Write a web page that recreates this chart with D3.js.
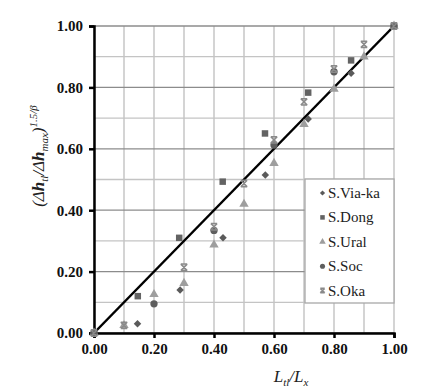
<!DOCTYPE html>
<html>
<head>
<meta charset="utf-8">
<script src="https://cdn.jsdelivr.net/npm/d3@7"></script>
<style>
  body { margin: 0; background: #fff; }
  svg text { font-family: "Liberation Serif", "Times New Roman", serif !important; }
</style>
</head>
<body>
<div id="chart"></div>
<script>
// 数据：横坐标 Ltl/Lx，纵坐标 (Δhtl/Δhmax)^(1.5/β)
const seriesNames = ["S.Via-ka", "S.Dong", "S.Ural", "S.Soc", "S.Oka"];
const viaka = [[0, 0], [0.145, 0.03], [0.287, 0.14], [0.43, 0.31], [0.571, 0.515], [0.714, 0.697], [0.857, 0.846], [1.0, 1.0]];
const dong  = [[0, 0], [0.146, 0.12], [0.284, 0.31], [0.429, 0.493], [0.57, 0.65], [0.714, 0.783], [0.857, 0.888], [1.0, 1.0]];
const ural  = [[0, 0], [0.1, 0.025], [0.2, 0.126], [0.3, 0.162], [0.4, 0.287], [0.5, 0.42], [0.6, 0.553], [0.7, 0.68], [0.8, 0.795], [0.9, 0.9], [1.0, 1.0]];
const soc   = [[0, 0], [0.2, 0.095], [0.4, 0.334], [0.6, 0.612], [0.8, 0.851], [1.0, 1.0]];
const oka   = [[0, 0], [0.1, 0.025], [0.3, 0.214], [0.4, 0.346], [0.5, 0.487], [0.6, 0.629], [0.7, 0.753], [0.8, 0.86], [0.9, 0.94], [1.0, 1.0]];
const tickValues = [0, 0.2, 0.4, 0.6, 0.8, 1.0];
const gridValues = d3.range(0, 1.0001, 0.1);

const W = 444, H = 389;
const margin = { left: 94, right: 50, top: 26, bottom: 56 };

const svg = d3.select("#chart").append("svg")
    .attr("width", W).attr("height", H);

const x = d3.scaleLinear().domain([0, 1]).range([margin.left, W - margin.right]);
const y = d3.scaleLinear().domain([0, 1]).range([H - margin.bottom, margin.top]);

// --- 网格 ---
const grid = svg.append("g");
grid.selectAll(".vg").data(gridValues).enter().append("line")
    .attr("x1", d => x(d)).attr("x2", d => x(d))
    .attr("y1", y(0)).attr("y2", y(1))
    .attr("stroke", "#bdbdbd").attr("stroke-width", 1.3);
grid.selectAll(".hg").data(gridValues).enter().append("line")
    .attr("y1", d => y(d)).attr("y2", d => y(d))
    .attr("x1", x(0)).attr("x2", x(1))
    .attr("stroke", (d, i) => i % 2 === 0 ? "#8c8c8c" : "#c4c4c4")
    .attr("stroke-width", 1.3);

// --- 坐标轴 ---
const xAxis = svg.append("g").attr("transform", `translate(0,${y(0)})`)
    .call(d3.axisBottom(x).tickValues(tickValues).tickFormat(d3.format(".2f")).tickSizeOuter(0).tickSize(5).tickPadding(5));
const yAxis = svg.append("g").attr("transform", `translate(${x(0)},0)`)
    .call(d3.axisLeft(y).tickValues(tickValues).tickFormat(d3.format(".2f")).tickSizeOuter(0).tickSize(5).tickPadding(6));
[xAxis, yAxis].forEach(a => {
    a.attr("font-family", null);
    a.select(".domain").attr("stroke", "#000").attr("stroke-width", 2.5);
    a.selectAll(".tick line").attr("stroke", "#000").attr("stroke-width", 2.5);
    a.selectAll(".tick text")
        .attr("font-size", 15).attr("font-weight", "bold").attr("fill", "#111");
});

// --- 1:1 线 ---
svg.append("line")
    .attr("x1", x(0)).attr("y1", y(0)).attr("x2", x(1)).attr("y2", y(1))
    .attr("stroke", "#000").attr("stroke-width", 2.5);

// --- 符号 ---
const styles = [
    { data: viaka, type: "diamond",        size: 28, color: "#5a5a5a" },
    { data: dong,  type: d3.symbolSquare,  size: 42, color: "#636363" },
    { data: ural,  type: d3.symbolTriangle, size: 38, color: "#9e9e9e" },
    { data: soc,   type: d3.symbolCircle,  size: 42, color: "#5e5e5e" },
    { data: oka,   type: "x",              size: 0,  color: "#8a8a8a" }
];

function drawMarker(g, s, cx, cy, scale) {
    if (s.type === "x") {
        const r = 3.2 * scale;
        g.append("path")
            .attr("d", `M${cx - r},${cy - r}L${cx + r},${cy + r}M${cx - r},${cy + r}L${cx + r},${cy - r}M${cx - r},${cy - r}L${cx + r},${cy - r}M${cx - r},${cy + r}L${cx + r},${cy + r}`)
            .attr("stroke", s.color).attr("stroke-width", 1.5).attr("fill", "none");
    } else if (s.type === "diamond") {
        g.append("path")
            .attr("d", d3.symbol().type(d3.symbolSquare).size(s.size * scale * scale)())
            .attr("transform", `translate(${cx},${cy}) rotate(45)`)
            .attr("fill", s.color);
    } else {
        g.append("path")
            .attr("d", d3.symbol().type(s.type).size(s.size * scale * scale)())
            .attr("transform", `translate(${cx},${cy})`)
            .attr("fill", s.color);
    }
}

const pts = svg.append("g");
styles.forEach(s => {
    s.data.forEach(d => drawMarker(pts, s, x(d[0]), y(d[1]), 1));
});

// --- 图例 ---
const lg = svg.append("g");
lg.append("rect").attr("x", 305).attr("y", 179).attr("width", 89).attr("height", 124)
    .attr("fill", "#fff").attr("stroke", "#a8a8a8").attr("stroke-width", 1.3);
seriesNames.forEach((name, i) => {
    const ly = 193 + i * 24.4;
    drawMarker(lg, styles[i], 322.5, ly, 0.7);
    lg.append("text").attr("x", 328).attr("y", ly + 5)
        .attr("font-size", 15).attr("fill", "#222").text(name);
});

// --- 轴标题 ---
const yl = svg.append("text")
    .attr("transform", `translate(44,156) rotate(-90)`)
    .attr("text-anchor", "middle").attr("font-size", 17).attr("font-style", "italic").attr("fill", "#222");
yl.append("tspan").text("(Δ");
yl.append("tspan").text("h").attr("font-weight", "bold");
yl.append("tspan").text("tl").attr("font-size", 11).attr("dy", 4);
yl.append("tspan").text("/Δ").attr("dy", -4);
yl.append("tspan").text("h").attr("font-weight", "bold");
yl.append("tspan").text("max").attr("font-size", 11).attr("dy", 4);
yl.append("tspan").text(")").attr("dy", -4);
yl.append("tspan").text("1.5/β").attr("font-size", 11).attr("dy", -7);

const xl = svg.append("text")
    .attr("x", 291).attr("y", 382)
    .attr("text-anchor", "middle").attr("font-size", 17).attr("font-style", "italic").attr("fill", "#222");
xl.append("tspan").text("L");
xl.append("tspan").text("tl").attr("font-size", 11).attr("dy", 4);
xl.append("tspan").text("/L").attr("dy", -4);
xl.append("tspan").text("x").attr("font-size", 11).attr("dy", 4);
</script>
</body>
</html>
